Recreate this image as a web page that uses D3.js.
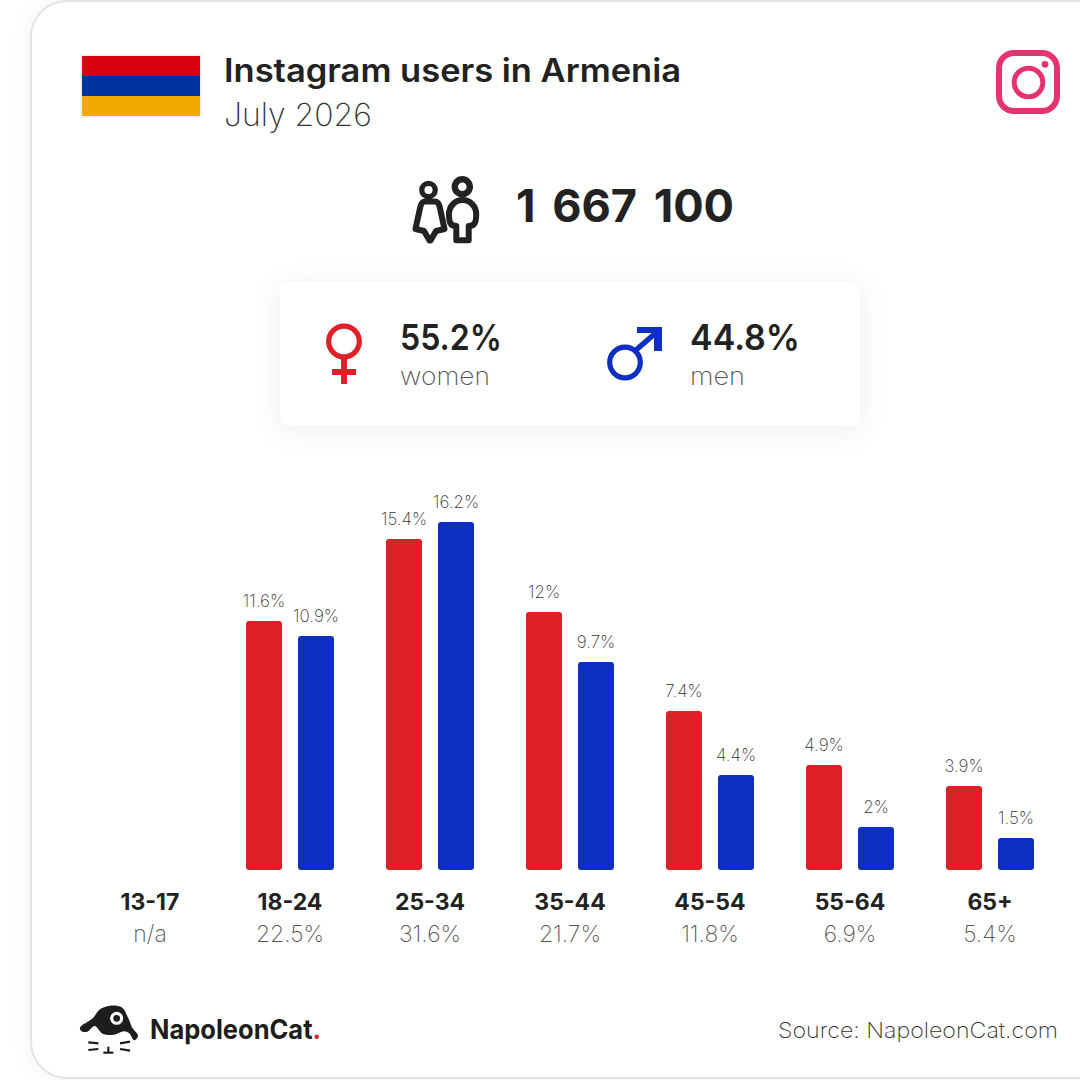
<!DOCTYPE html>
<html>
<head>
<meta charset="utf-8">
<script src="https://cdn.jsdelivr.net/npm/d3@7"></script>
<style>
  html, body { margin: 0; padding: 0; background: #fff; }
  svg { display: block; }
  text { font-family: Inter, "Open Sans", sans-serif; }
</style>
</head>
<body>
<div id="chart"></div>
<script>
const categories = ['13-17', '18-24', '25-34', '35-44', '45-54', '55-64', '65+'];
const totals = ['n/a', '22.5%', '31.6%', '21.7%', '11.8%', '6.9%', '5.4%'];
const women = [null, 11.6, 15.4, 12, 7.4, 4.9, 3.9];
const men = [null, 10.9, 16.2, 9.7, 4.4, 2, 1.5];
const genders = ['women', 'men'];
const genderColors = ['#e02027', '#0f2ec2'];

const width = 1080, height = 1080;
const svg = d3.select('#chart').append('svg').attr('width', width).attr('height', height);

const defs = svg.append('defs');
const soft = defs.append('filter').attr('id', 'soft').attr('x', '-20%').attr('y', '-30%').attr('width', '140%').attr('height', '160%');
soft.append('feDropShadow').attr('dx', 0).attr('dy', 4).attr('stdDeviation', 14).attr('flood-color', '#000').attr('flood-opacity', 0.07);
const edge = defs.append('filter').attr('id', 'edge').attr('x', '-5%').attr('y', '-5%').attr('width', '110%').attr('height', '110%');
edge.append('feDropShadow').attr('dx', 0).attr('dy', 0).attr('stdDeviation', 10).attr('flood-color', '#000').attr('flood-opacity', 0.05);

// text helper, width forced because the original font is wider than what is installed
function label(x, y, str, size, weight, color, len, anchor) {
  const t = svg.append('text')
    .attr('x', x).attr('y', y)
    .attr('font-size', size).attr('font-weight', weight)
    .attr('fill', color).attr('text-anchor', anchor || 'start')
    .text(str);
  if (len) t.attr('textLength', len).attr('lengthAdjust', 'spacingAndGlyphs');
  return t;
}

// outer card
svg.append('rect').attr('x', 31).attr('y', 1).attr('width', 1120).attr('height', 1077).attr('rx', 36)
  .attr('fill', '#fff').attr('stroke', '#e4e4e4').attr('stroke-width', 2).attr('filter', 'url(#edge)');

// flag
svg.append('rect').attr('x', 80).attr('y', 54).attr('width', 122).attr('height', 64).attr('fill', '#f2f2f2');
svg.append('rect').attr('x', 82).attr('y', 56).attr('width', 118).attr('height', 20).attr('fill', '#d90012');
svg.append('rect').attr('x', 82).attr('y', 76).attr('width', 118).attr('height', 20).attr('fill', '#0033a0');
svg.append('rect').attr('x', 82).attr('y', 96).attr('width', 118).attr('height', 20).attr('fill', '#f2a800');

label(224, 82, 'Instagram users in Armenia', 32, 600, '#222', 457);
label(224, 126, 'July 2026', 32, 200, '#333', 148);

// instagram icon
const ig = svg.append('g').attr('fill', 'none').attr('stroke', '#e5336f');
ig.append('rect').attr('x', 999).attr('y', 53).attr('width', 58).attr('height', 58).attr('rx', 15).attr('stroke-width', 6);
ig.append('circle').attr('cx', 1028.5).attr('cy', 82.5).attr('r', 14.3).attr('stroke-width', 5);
ig.append('circle').attr('cx', 1045).attr('cy', 64.3).attr('r', 3.4).attr('fill', '#e5336f').attr('stroke', 'none');

// people icon
const people = svg.append('g').attr('fill', 'none').attr('stroke', '#222').attr('stroke-width', 6).attr('stroke-linejoin', 'round');
people.append('circle').attr('cx', 428.5).attr('cy', 190).attr('r', 6.7).attr('stroke-width', 5.3);
people.append('path').attr('d', 'M425,201.5 H435 Q438,201.5 439.5,206 L444.5,229 L436,231 L430.5,240.5 L429.5,240.5 L424,231 L415.5,229 L420.5,206 Q422,201.5 425,201.5 Z');
people.append('circle').attr('cx', 462.3).attr('cy', 186.7).attr('r', 7.5).attr('stroke-width', 6.4);
people.append('path').attr('d', 'M456.3,226 C450,226 449,222 449,214 A13.6,14 0 0 1 476.2,214 C476.2,222 475,226 468.7,226 V240.3 H456.3 Z');

label(516, 222, '1 667 100', 45, 700, '#222', 218).style('word-spacing', '6px');

// women / men card
svg.append('rect').attr('x', 280).attr('y', 282).attr('width', 580).attr('height', 144).attr('rx', 10)
  .attr('fill', '#fff').attr('filter', 'url(#soft)');

const fem = svg.append('g');
fem.append('circle').attr('cx', 344).attr('cy', 341.5).attr('r', 15.3).attr('fill', 'none').attr('stroke', genderColors[0]).attr('stroke-width', 5.2);
fem.append('rect').attr('x', 341).attr('y', 358).attr('width', 6).attr('height', 26).attr('fill', genderColors[0]);
fem.append('rect').attr('x', 332).attr('y', 369).attr('width', 24).attr('height', 6).attr('fill', genderColors[0]);

const mal = svg.append('g');
mal.append('circle').attr('cx', 625).attr('cy', 362.5).attr('r', 15.3).attr('fill', 'none').attr('stroke', genderColors[1]).attr('stroke-width', 5.2);
mal.append('path').attr('d', 'M636,350 L658,331').attr('stroke', genderColors[1]).attr('stroke-width', 5.5);
mal.append('path').attr('d', 'M637,327 H662 V351 H654 V333 H637 Z').attr('fill', genderColors[1]);

label(400, 349.5, '55.2%', 36, 600, '#222', 102);
label(400, 384.5, 'women', 25, 200, '#555', 90);
label(690, 349.5, '44.8%', 36, 600, '#222', 110);
label(690, 384.5, 'men', 25, 200, '#555', 55);

// bars
const baseline = 870;
const x = d3.scaleBand().domain(categories).range([80, 1060]);
const inner = d3.scaleBand().domain(genders).range([0, 88]).paddingInner(16 / 52).paddingOuter(0);
const y = d3.scaleLinear().domain([0, 16.2]).range([baseline, 522]);

const rows = categories.map((c, i) => ({ c, values: [women[i], men[i]] }));
const groups = svg.selectAll('g.group').data(rows).enter().append('g')
  .attr('class', 'group')
  .attr('transform', d => `translate(${x(d.c) + x.bandwidth() / 2 - 44},0)`);

const cells = groups.selectAll('g').data(d => d.values.map((v, i) => ({ v, g: genders[i], i })).filter(d => d.v !== null))
  .enter().append('g');

cells.append('path')
  .attr('fill', d => genderColors[d.i])
  .attr('d', d => {
    const bx = inner(d.g), w = inner.bandwidth(), top = Math.round(y(d.v)), r = 3;
    return `M${bx},${baseline - r}V${top + r}Q${bx},${top} ${bx + r},${top}H${bx + w - r}Q${bx + w},${top} ${bx + w},${top + r}V${baseline - r}Q${bx + w},${baseline} ${bx + w - r},${baseline}H${bx + r}Q${bx},${baseline} ${bx},${baseline - r}Z`;
  });

cells.append('text')
  .attr('x', d => inner(d.g) + inner.bandwidth() / 2)
  .attr('y', d => Math.round(y(d.v)) - 14)
  .attr('text-anchor', 'middle')
  .attr('font-size', 17).attr('font-weight', 200).attr('fill', '#333')
  .text(d => d.v + '%');

// category axis
const axis = svg.append('g').attr('transform', 'translate(0,891)')
  .call(d3.axisBottom(x).tickSize(0).tickPadding(0));
axis.select('.domain').remove();
axis.selectAll('text')
  .attr('y', 0).attr('dy', '19px')
  .attr('font-size', 23).attr('font-weight', 700).attr('fill', '#222')
  .style('font-family', 'Inter, sans-serif');

svg.selectAll('text.total').data(categories).enter().append('text')
  .attr('class', 'total')
  .attr('x', d => x(d) + x.bandwidth() / 2)
  .attr('y', 942)
  .attr('text-anchor', 'middle')
  .attr('font-size', 23).attr('font-weight', 200).attr('fill', '#555')
  .text((d, i) => totals[i]);

// logo
const lx = v => v / 3 + 60, ly = v => v / 3 + 990;
const head = [[60,113],[98,85],[120,58],[150,47],[185,52],[205,85],[216,112],[234,138],[222,151],[208,130],[192,124],[162,134],[128,131],[104,108],[82,125],[64,123]];
const logo = svg.append('g');
logo.append('path')
  .attr('d', d3.line().x(d => lx(d[0])).y(d => ly(d[1])).curve(d3.curveCatmullRomClosed.alpha(0.5))(head))
  .attr('fill', '#1d1d1b');
logo.append('circle').attr('cx', lx(170)).attr('cy', ly(85)).attr('r', 6.5).attr('fill', '#fff');
logo.append('circle').attr('cx', lx(170)).attr('cy', ly(85)).attr('r', 3.4).attr('fill', '#1d1d1b');
[[85,157,115,160],[85,180,115,177],[180,160,210,155],[180,177,210,182],[145,170,145,188],[130,188,160,188]].forEach(s => {
  logo.append('line').attr('x1', lx(s[0])).attr('y1', ly(s[1])).attr('x2', lx(s[2])).attr('y2', ly(s[3]))
    .attr('stroke', '#1d1d1b').attr('stroke-width', 2.2);
});
const brand = label(150, 1039, 'NapoleonCat', 27, 700, '#1d1d1b', 171);
brand.append('tspan').attr('fill', '#e02027').text('.');

label(1058, 1038, 'Source: NapoleonCat.com', 22, 200, '#333', 280, 'end');
</script>
</body>
</html>
